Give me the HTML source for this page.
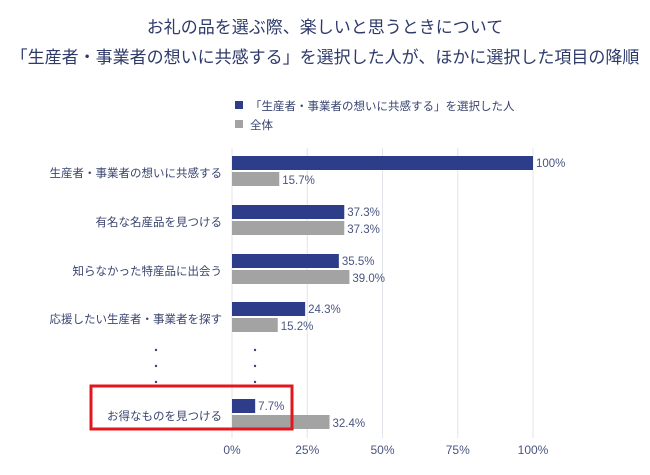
<!DOCTYPE html>
<html><head><meta charset="utf-8"><style>
body{margin:0;background:#fff;width:650px;height:470px;overflow:hidden;font-family:"Liberation Sans","Noto Sans CJK JP",sans-serif;}
</style></head><body>
<svg width="650" height="470" id="c" style="font-family:'Liberation Sans','Noto Sans CJK JP',sans-serif">
<text x="325" y="33" text-anchor="middle" font-size="17" fill="#2e3a6a">お礼の品を選ぶ際、楽しいと思うときについて</text>
<text x="325" y="63" text-anchor="middle" font-size="17" fill="#2e3a6a">「生産者・事業者の想いに共感する」を選択した人が、ほかに選択した項目の降順</text>
<g>
<rect x="235" y="101" width="8" height="8" fill="#2e3d8a"/>
<text x="250" y="110" font-size="11.5" fill="#3a4570">「生産者・事業者の想いに共感する」を選択した人</text>
<rect x="235" y="120" width="8" height="8" fill="#a3a3a3"/>
<text x="250" y="129" font-size="11.5" fill="#3a4570">全体</text>
</g>
<g id="grid"></g><g id="bars"></g>
<g fill="#3a4570">
<circle cx="156" cy="350" r="1.2"/><circle cx="156" cy="366" r="1.2"/><circle cx="156" cy="382" r="1.2"/>
<circle cx="255" cy="350" r="1.2"/><circle cx="255" cy="366" r="1.2"/><circle cx="255" cy="382" r="1.2"/>
</g>
<rect x="91" y="386" width="201" height="43" fill="none" stroke="#e0181e" stroke-width="3"/>
</svg>
<script>
const categories=["生産者・事業者の想いに共感する","有名な名産品を見つける","知らなかった特産品に出会う","応援したい生産者・事業者を探す","お得なものを見つける"];
const selectedValues=[100,37.3,35.5,24.3,7.7];
const allValues=[15.7,37.3,39.0,15.2,32.4];
const ticks=[0,25,50,75,100];
const rowTops=[156,205,254,302,399];
const ns="http://www.w3.org/2000/svg";
const x=v=>232+v*3.01;
function mk(t,a,p){const e=document.createElementNS(ns,t);for(const k in a)e.setAttribute(k,a[k]);p.appendChild(e);return e;}
const g=document.getElementById('grid'),b=document.getElementById('bars');
ticks.forEach(t=>{
 const l=mk('line',{x1:x(t),x2:x(t),y1:148,y2:438,stroke:'#e2e4ec','stroke-width':1},g);
 
 
 const tx=mk('text',{x:x(t),y:454,'text-anchor':'middle','font-size':12,fill:'#4a5580'},g);
 tx.textContent=t+'%';
 
 
});
categories.forEach((c,i)=>{
 const y=rowTops[i];
 const lab=mk('text',{x:222,y:y+21,'text-anchor':'end','font-size':11.5,fill:'#3a4570'},b);
 lab.textContent=c;
 
 
 const r1=mk('rect',{x:x(0),y:y,width:x(selectedValues[i])-x(0),height:14,fill:'#2e3d8a'},b);
 
 
 const t1=mk('text',{x:x(selectedValues[i])+3,y:y+11,'font-size':11.5,fill:'#4a5580'},b);
 t1.textContent=(selectedValues[i]===100?'100':selectedValues[i].toFixed(1))+'%';
 
 
 const r2=mk('rect',{x:x(0),y:y+16,width:x(allValues[i])-x(0),height:14,fill:'#a3a3a3'},b);
 
 
 const t2=mk('text',{x:x(allValues[i])+3,y:y+28,'font-size':11.5,fill:'#4a5580'},b);
 t2.textContent=allValues[i].toFixed(1)+'%';
 
 
});
</script>
</body></html>
